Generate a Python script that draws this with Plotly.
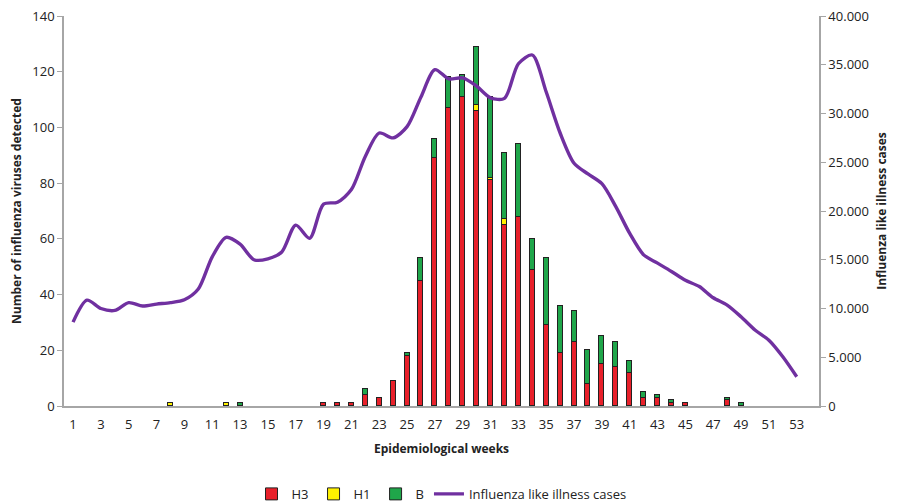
import plotly.graph_objects as go

weeks = list(range(1, 54))

# Virus detections per week (H3, H1, B)
h3 = {19: 1, 20: 1, 21: 1, 22: 4, 23: 3, 24: 9, 25: 18, 26: 45, 27: 89, 28: 107,
      29: 111, 30: 106, 31: 81, 32: 65, 33: 68, 34: 49, 35: 29, 36: 19, 37: 23,
      38: 8, 39: 15, 40: 14, 41: 12, 42: 3, 43: 3, 44: 1, 45: 1, 48: 2}
h1 = {8: 1, 12: 1, 30: 2, 31: 1, 32: 2}
b = {13: 1, 22: 2, 25: 1, 26: 8, 27: 7, 28: 11, 29: 8, 30: 21, 31: 29, 32: 24,
     33: 26, 34: 11, 35: 24, 36: 17, 37: 11, 38: 12, 39: 10, 40: 9, 41: 4,
     42: 2, 43: 1, 44: 1, 48: 1, 49: 1}

h3_vals = [h3.get(w) for w in weeks]
h1_vals = [h1.get(w) for w in weeks]
b_vals = [b.get(w) for w in weeks]

# Influenza like illness cases per week
ili = [8600, 10850, 10000, 9800, 10600, 10250, 10450, 10600, 10900, 12000,
       15300, 17300, 16600, 15000, 15100, 15800, 18550, 17200, 20700, 20900,
       22200, 25600, 28000, 27500, 28650, 31700, 34500, 33550, 33650, 32800,
       31600, 31550, 35100, 36000, 32200, 28000, 24900, 23800, 22800, 20450,
       17700, 15500, 14650, 13800, 12900, 12250, 11100, 10350, 9150, 7800,
       6750, 5050, 3000]

fig = go.Figure()
bar_line = dict(color="#222222", width=1)
bw = 0.36
fig.add_trace(go.Bar(x=weeks, y=h3_vals, name="H3", marker=dict(color="#E8202A", line=bar_line), width=bw))
fig.add_trace(go.Bar(x=weeks, y=h1_vals, name="H1", marker=dict(color="#FFF200", line=bar_line), width=bw))
fig.add_trace(go.Bar(x=weeks, y=b_vals, name="B", marker=dict(color="#1FA64A", line=bar_line), width=bw))
fig.add_trace(go.Scatter(x=weeks, y=ili, name="Influenza like illness cases", yaxis="y2",
                         mode="lines", line=dict(color="#7030A0", width=3.4, shape="spline", smoothing=0.8)))

font = "Open Sans, Liberation Sans, sans-serif"
fig.update_layout(
    width=901, height=503,
    barmode="stack",
    separators=",.",
    plot_bgcolor="white", paper_bgcolor="white",
    margin=dict(l=56, r=90, t=8, b=105, autoexpand=False),
    font=dict(family=font, size=13, color="#222222"),
    xaxis=dict(range=[0.35, 54.6], tickvals=list(range(1, 54, 2)), ticks="outside",
               ticklen=6, tickcolor="rgba(0,0,0,0)", ticklabeloverflow="allow",
               showgrid=False, showline=True, linecolor="#A6A6A6", linewidth=1.5,
               zeroline=False, tickfont=dict(size=13),
               title=dict(text="<b>Epidemiological weeks</b>", font=dict(size=12), standoff=12)),
    yaxis=dict(range=[0, 140], dtick=20, ticks="outside", ticklen=5, tickcolor="#A6A6A6",
               ticklabeloverflow="allow",
               showgrid=False, showline=True, linecolor="#A6A6A6", linewidth=1.5,
               zeroline=False, tickfont=dict(size=13),
               title=dict(text="<b>Number of influenza viruses detected</b>", font=dict(size=12), standoff=12)),
    yaxis2=dict(range=[0, 40000], dtick=5000, overlaying="y", side="right",
                tickformat=",.0f", ticks="outside", ticklen=5, tickcolor="#A6A6A6",
                ticklabeloverflow="allow",
                showgrid=False, showline=True, linecolor="#A6A6A6", linewidth=1.5,
                zeroline=False, tickfont=dict(size=13),
                title=dict(text="<b>Influenza like illness cases</b>", font=dict(size=12), standoff=10)),
    legend=dict(orientation="h", x=0.5, xanchor="center", y=-0.187, yanchor="top",
                font=dict(size=13), traceorder="normal", itemwidth=30),
    bargap=0,
)

fig.write_html("out.html")
